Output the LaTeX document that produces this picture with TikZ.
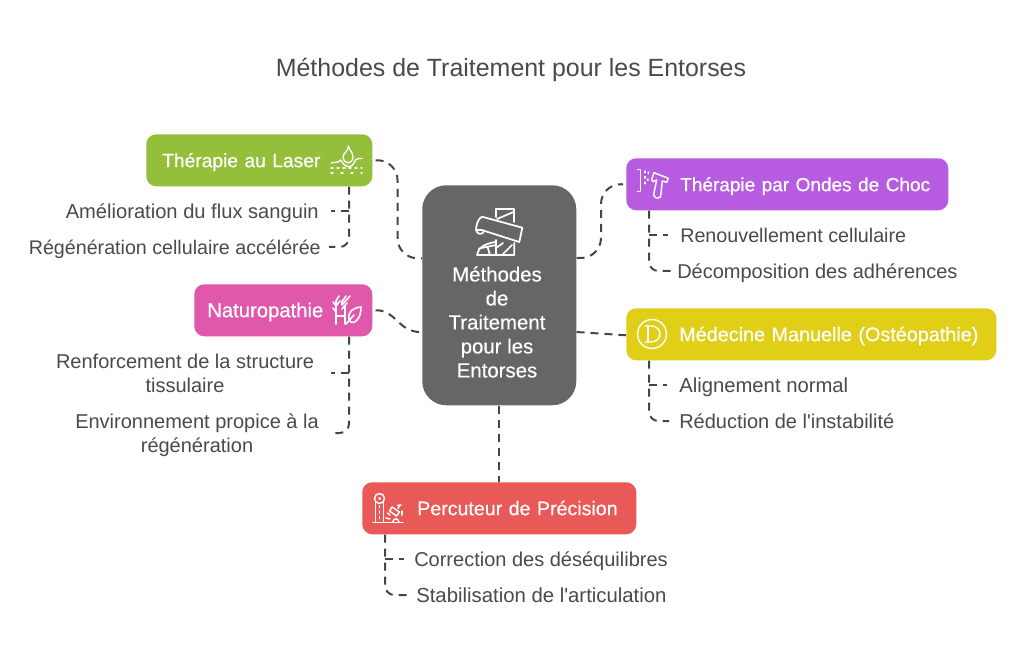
\documentclass[tikz,border=0pt]{standalone}
\usepackage{fontspec}
\setmainfont{Liberation Sans}
\newfontfamily\bodyfont{Liberation Sans}
\newfontfamily\medfont[FakeBold=0.45]{Liberation Sans}
\usetikzlibrary{calc}
\newcommand{\fsz}[1]{\fontsize{#1}{18}\selectfont}
\definecolor{ink}{HTML}{4A4A4A}
\definecolor{lne}{HTML}{454545}
\definecolor{cgreen}{HTML}{94BF3A}
\definecolor{cpurple}{HTML}{B75CE0}
\definecolor{cyellow}{HTML}{E0CF16}
\definecolor{cpink}{HTML}{DF58AB}
\definecolor{cred}{HTML}{E85957}
\definecolor{cgrey}{HTML}{666666}
\tikzset{
  x=0.75pt,y=-0.75pt,
  box/.style n args={2}{draw=none,rounded corners=7.5pt,anchor=north west,minimum height=39pt,
    minimum width=#1*0.75pt,text width=(#1-#2-#2)*0.75pt,inner xsep=#2*0.75pt,inner ysep=0pt,
    text height=12.2pt,text depth=1.8pt,
    align=left,text=white,font=\medfont\fontsize{14.6}{18}\selectfont},
  hub/.style={rounded corners=18pt,fill=cgrey,anchor=north west,minimum width=115.5pt,minimum height=165pt,inner sep=0pt},
  hubtext/.style={text=white,align=center,inner sep=0pt,font=\medfont\fontsize{15.3}{18}\selectfont},
  lab/.style={text=ink,inner sep=0pt,align=center,font=\bodyfont\fontsize{15}{18}\selectfont},
  lab1/.style={lab,text height=13pt,text depth=1.8pt},
  conn/.style={draw=lne,line width=1.5pt,dash pattern=on 6pt off 4.5pt,rounded corners=7pt},
  connbig/.style={conn,rounded corners=15pt},
  ico/.style={draw=white,line width=1.3pt,line cap=round,line join=round},
}
\begin{document}
\begin{tikzpicture}
\useasboundingbox (0,0) rectangle (1022,656);
\fill[white] (0,0) rectangle (1022,656);
\node[text=ink,inner sep=0pt,font=\bodyfont\fontsize{18.7}{22}\selectfont,text height=16pt,text depth=1.5pt] (title) at (511,67) {Méthodes de Traitement pour les Entorses};

\node[hub] (center) at (422,185) {};
\node[hubtext] (centertext) at (497,322) {Méthodes\\de\\Traitement\\pour les\\Entorses};

\node[box={226}{16},fill=cgreen] (laser) at (146,134) {\mbox{\fsz{14.4}Thérapie au Laser}};
\node[box={178}{13},fill=cpink] (naturo) at (194,284) {\mbox{\fsz{15.2}Naturopathie}};
\node[box={322}{54},fill=cpurple] (choc) at (626,158) {\mbox{\fsz{14.25}Thérapie par Ondes de Choc}};
\node[box={370}{53},fill=cyellow] (manuelle) at (626,308) {\mbox{\fsz{14.85}Médecine Manuelle (Ostéopathie)}};
\node[box={274}{55},fill=cred] (percuteur) at (362,482) {\mbox{\fsz{14.7}Percuteur de Précision}};

\node[lab1,anchor=east] (l1) at (319,211) {\fsz{15.1}Amélioration du flux sanguin};
\node[lab1,anchor=east] (l2) at (321,247) {\fsz{14.75}Régénération cellulaire accélérée};
\node[lab] (n1) at (185,373.2) {Renforcement de la structure\\tissulaire};
\node[lab] (n2) at (197,435) {Environnement propice à la\\régénération};
\node[lab1,anchor=west] (c1) at (680,235) {\fsz{14.8}Renouvellement cellulaire};
\node[lab1,anchor=west] (c2) at (677,271) {Décomposition des adhérences};
\node[lab1,anchor=west] (m1) at (679,385) {\fsz{15.2}Alignement normal};
\node[lab1,anchor=west] (m2) at (679,421) {Réduction de l'instabilité};
\node[lab1,anchor=west] (p1) at (414,559) {Correction des déséquilibres};
\node[lab1,anchor=west] (p2) at (416,595) {\fsz{15.25}Stabilisation de l'articulation};

% hub connectors
\draw[connbig] ($(laser.east)+(3,0)$) -- ++(22,0) -- ($(laser.east)+(25,98)$) -- ($(center.west)+(0,-37)$);
\draw[conn] ($(naturo.east)+(3,0)$) .. controls (397,310) and (397,332) .. ($(center.west)+(0,37)$);
\draw[connbig] (center.east |- 0,258) -- (601,258) -- (601,184) -- ($(choc.west)+(-3,0)$);
\draw[conn] (center.east |- 0,332) -- ($(manuelle.west)+(0,1)$);
\draw[conn] (center.south -| 499,0) -- (percuteur.north -| 499,0);

% branch connectors
\draw[conn] (laser.south -| 349,0) -- (349,247) -- ($(l2.east)+(8,0)$);
\draw[conn] (349,211) -- ($(l1.east)+(12,0)$);
\draw[conn] (naturo.south -| 349,0) -- (349,433) -- (331,433);
\draw[conn] (349,373) -- (331,373);
\draw[conn] (choc.south -| 649,0) -- (649,271) -- ($(c2.west)+(-6,0)$);
\draw[conn] (649,235) -- ($(c1.west)+(-12,0)$);
\draw[conn] (manuelle.south -| 649,0) -- (649,421) -- ($(m2.west)+(-10,0)$);
\draw[conn] (649,385) -- ($(m1.west)+(-12,0)$);
\draw[conn] (percuteur.south -| 385,0) -- (385,595) -- ($(p2.west)+(-8,0)$);
\draw[conn] (385,559) -- ($(p1.west)+(-10,0)$);

% hub icon: bandage
\begin{scope}[ico]
\draw (496,217) -- (496,209) -- (514.3,209) -- (514.3,222);
\draw (497,219) -- (513.5,212);
\draw (482,216.7) -- (522.3,227.7) -- (519.3,242) -- (481.7,230) -- (476,230) .. controls (476,226) and (478,218) .. (482,216.7);
\draw (476,230) .. controls (477,235) and (483,235) .. (484,231);
\draw (495,242) .. controls (484,244) and (478,248) .. (477,255) -- (514.3,255) -- (514.3,243);
\draw (479,248.5) -- (496,245);
\draw (487.5,247) -- (490,255);
\draw (496,240) -- (496,255);
\draw (496,248) -- (503,243);
\draw (503,254) -- (512,245);
\end{scope}

% laser icon
\begin{scope}[ico,line width=1pt]
\draw (348.5,146) .. controls (349,150) and (353,152) .. (353,157) .. controls (353,161) and (350,163) .. (348,163) .. controls (345,163) and (343,160) .. (343,157) .. controls (343,153) and (348,152) .. (348.5,146);
\draw (331,163) -- (338,162) .. controls (341,161) and (340,158) .. (342,162) .. controls (345,168) and (352,168) .. (354,163) .. controls (355,160) and (356,158.5) .. (359,158.5) -- (362,158.5);
\draw[dash pattern=on 1.5pt off 3pt] (331,168) -- (362,168);
\draw[dash pattern=on 1.5pt off 6pt] (331,173) -- (362,173);
\end{scope}

% shockwave icon
\begin{scope}[ico,line width=1.1pt]
\draw (637.5,169.5) -- (640.7,169.5) -- (640.7,191.5) -- (637.5,191.5);
\draw[dash pattern=on 1.2pt off 3pt] (645,171) -- (645,187);
\draw[dash pattern=on 1.2pt off 4pt] (648.5,172) -- (647.5,184);
\draw (654,172.7) -- (668.3,178.3) -- (666.7,182.3) -- (662.3,181) -- (660.7,196) .. controls (660.5,198) and (656,199) .. (655,197) -- (653.5,195) -- (656.7,180) -- (652.7,181.7) -- (651.7,179.5) -- cycle;
\end{scope}

% osteopathy icon
\begin{scope}[ico,line width=1.1pt]
\draw (652,334) circle (14.5);
\draw (645,326) -- (651,326) .. controls (663,326) and (663,342) .. (651,342) -- (645,342);
\draw (648,326) -- (648,342);
\end{scope}

% naturopathy icon
\begin{scope}[ico,line width=1.2pt]
\draw (336,324) -- (336,301) .. controls (337,299) and (338,298) .. (339,296);
\draw (345,324) -- (345,306);
\draw (336,316) -- (345,316);
\draw (333,308) -- (336,312);
\draw (333,302) -- (336,306);
\draw (340,301) -- (336,306);
\draw (350,296) -- (342,305) -- (342,301);
\draw (346,296) -- (342,302);
\draw (347,303) -- (342,309);
\draw (361,307) .. controls (352,308) and (348,312) .. (349,319) .. controls (349,322) and (353,324) .. (356,321) .. controls (360,318) and (361,312) .. (361,307) -- cycle;
\draw (346,324) -- (354,315);
\end{scope}

% impact tester icon
\begin{scope}[ico,line width=1.1pt]
\draw (379.5,498.5) circle (5);
\fill[white] (379.5,498.5) circle (1.5);
\draw (375.7,502) -- (375.7,522);
\draw (383.3,502) -- (383.3,522);
\draw (373,522.5) -- (403,522.5);
\draw[dash pattern=on 1.5pt off 2.5pt] (379.5,506) -- (379.5,521);
\draw (392.7,522) .. controls (393,518.5) and (398,517) .. (399,522);
\draw (397.5,505.5) -- (401,505) ;
\draw (392,507) -- (399.5,512) -- (396.5,516) -- (389.5,511) -- cycle;
\draw (398,508.5) -- (400,505);
\draw (402,511) -- (402,515) ;
\draw (387.5,513) -- (390,515);
\draw (386,518) -- (390,519);
\end{scope}
\end{tikzpicture}
\end{document}
